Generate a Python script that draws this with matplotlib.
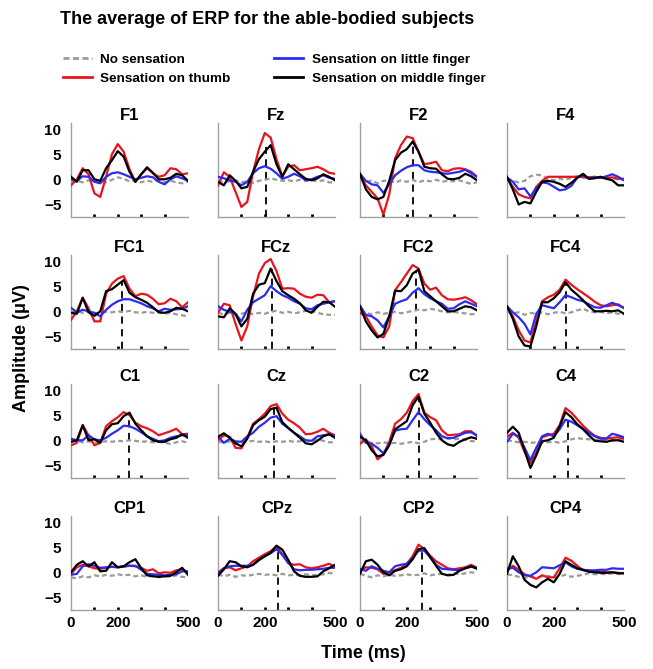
import matplotlib.pyplot as plt
from matplotlib.lines import Line2D

plt.rcParams['font.family'] = ['Liberation Sans', 'DejaVu Sans']
plt.rcParams['font.weight'] = 'bold'

time_ms = [0, 25, 50, 75, 100, 125, 150, 175, 200, 225, 250,
           275, 300, 325, 350, 375, 400, 425, 450, 475, 500]

channels = ['F1', 'Fz', 'F2', 'F4',
            'FC1', 'FCz', 'FC2', 'FC4',
            'C1', 'Cz', 'C2', 'C4',
            'CP1', 'CPz', 'CP2', 'CP4']
conditions = ['No sensation', 'Sensation on thumb',
              'Sensation on little finger', 'Sensation on middle finger']

# average ERP (uV), sampled every 25 ms
F1_none = [-0.5, -0.3, -0.6, -0.2, -0.5, -0.3, -0.6, -0.1, 0.4, 0.1, -0.4, -0.2, -0.6, -0.3, -0.5, -0.2, -0.6, -0.3, -0.6, -0.8, -0.5]
F1_thumb = [-1.2, 0.0, 2.2, 1.0, -2.8, -3.5, 0.5, 5.0, 7.0, 5.5, 2.0, -0.5, 1.0, 2.2, 1.2, 0.5, 0.8, 2.2, 2.0, 1.0, 1.2]
F1_little = [0.0, -0.3, 0.6, 0.5, -0.5, -0.8, 0.5, 1.2, 1.4, 1.0, 0.5, 0.0, 0.3, 0.6, 0.4, -0.5, -1.0, 0.0, 0.6, 0.2, -0.3]
F1_middle = [0.5, -0.5, 1.8, 1.8, 0.0, -0.3, 2.2, 3.8, 5.6, 4.5, 1.5, -0.5, 1.0, 2.4, 1.3, 0.0, 0.0, 0.3, 1.1, 0.8, -0.3]

Fz_none = [-0.3, -0.6, -0.4, -0.2, -0.6, -0.4, -0.7, -0.3, -0.1, 0.2, -0.1, -0.3, -0.2, -0.4, -0.1, -0.3, -0.2, -0.4, -0.2, -0.6, -0.7]
Fz_thumb = [-1.2, 1.4, 0.5, -2.5, -5.5, -4.5, 1.5, 6.0, 9.2, 8.3, 4.0, 0.6, 2.5, 2.8, 1.8, 2.0, 2.2, 2.5, 2.0, 1.3, 1.1]
Fz_little = [0.5, 0.2, -0.2, -0.5, -1.2, -0.5, 1.2, 2.2, 2.6, 2.1, 1.2, 0.1, 0.5, 1.1, 0.6, -0.2, 0.0, 0.5, 0.8, 0.3, 0.1]
Fz_middle = [-0.5, -1.2, 0.8, -0.3, -1.8, -1.5, 1.5, 4.0, 5.5, 6.8, 3.0, 0.5, 3.0, 2.0, 1.0, 0.1, -0.2, 0.2, 1.0, 0.5, -0.2]

F2_none = [0.1, -0.6, -0.2, -0.8, -0.3, -0.2, -0.7, -0.2, -0.5, -0.1, -0.6, -0.2, -0.4, -0.1, -0.5, -0.3, -0.4, -0.2, -0.6, -0.9, -0.6]
F2_thumb = [0.8, -1.2, -2.5, -3.8, -7.0, -3.0, 4.2, 6.8, 8.5, 8.2, 5.5, 3.0, 3.2, 3.5, 1.8, 1.6, 2.1, 2.2, 2.0, 1.5, 0.5]
F2_little = [1.1, -0.3, -1.0, -1.2, -2.7, -1.0, 0.8, 1.7, 2.4, 2.8, 2.8, 1.8, 1.5, 1.4, 1.2, 1.1, 1.3, 1.5, 1.9, 1.2, 0.5]
F2_middle = [1.1, -2.0, -3.5, -4.0, -3.5, -0.3, 3.8, 5.3, 6.0, 7.5, 5.5, 2.5, 2.2, 2.1, 1.0, 0.1, 0.0, 0.3, 1.1, 0.6, -0.2]

F4_none = [0.3, -0.3, -0.6, -0.3, 0.6, 0.9, 0.8, 0.0, -0.2, 0.1, -0.1, 0.3, 0.6, 0.3, 0.2, 0.5, 0.3, 0.1, 0.3, -0.1, 0.0]
F4_thumb = [0.3, -1.5, -3.0, -3.5, -3.8, -1.5, -0.3, 0.5, 0.5, 0.5, 0.5, 0.5, 0.5, 0.5, 0.4, 0.5, 0.3, 0.2, 0.4, 0.1, 0.1]
F4_little = [0.3, -0.5, -2.0, -1.8, -3.4, -1.8, -0.6, -0.8, -1.5, -2.2, -2.0, -1.3, 0.3, 0.8, 0.1, 0.4, 0.3, 0.6, 1.0, 0.5, -0.2]
F4_middle = [0.5, -2.0, -5.0, -4.5, -4.8, -2.5, -0.5, -0.3, -0.5, -0.9, -1.5, -0.7, 0.3, 1.1, 0.1, 0.2, 0.5, 0.1, -0.2, -1.2, -1.2]

FC1_none = [-0.2, 0.0, -0.3, -0.1, -0.4, -0.3, -0.1, -0.2, 0.0, -0.2, 0.1, -0.2, -0.3, -0.1, -0.3, -0.2, -0.5, -0.3, -0.6, -0.8, -1.0]
FC1_thumb = [-1.7, 0.0, 2.7, 0.6, -2.0, -2.0, 3.5, 5.5, 6.5, 7.0, 4.5, 3.0, 3.5, 3.3, 2.5, 1.4, 1.6, 2.5, 2.0, 0.8, 1.8]
FC1_little = [0.7, -0.2, 0.3, 0.0, -0.3, -1.0, 0.3, 1.3, 2.0, 2.4, 2.4, 2.0, 1.6, 1.0, 0.6, 0.0, 0.5, 0.3, 0.4, 0.5, 1.0]
FC1_middle = [-0.3, -0.5, 2.7, -0.2, -0.9, 0.0, 4.0, 4.4, 5.3, 6.2, 3.7, 2.8, 2.3, 1.7, 0.8, -0.2, -0.3, 0.0, 0.7, 0.5, 0.0]

FCz_none = [-0.3, -0.6, -0.3, -0.8, -0.5, -0.2, -0.6, -0.3, -0.5, -0.1, 0.1, -0.3, -0.1, -0.4, -0.2, 0.1, 0.1, -0.3, -0.6, -0.7, -0.7]
FCz_thumb = [-0.3, 1.5, 1.2, -2.5, -5.8, -3.0, 3.0, 7.5, 9.6, 10.4, 8.0, 4.5, 4.6, 4.5, 3.5, 2.9, 2.7, 3.3, 3.2, 1.8, 2.0]
FCz_little = [1.0, 0.3, -0.1, -0.5, -2.0, 0.3, 1.8, 2.5, 3.2, 5.0, 4.0, 3.2, 2.7, 2.0, 1.5, 0.6, 0.4, 1.2, 1.5, 1.8, 2.0]
FCz_middle = [-1.0, -1.2, 0.6, -0.5, -3.0, -1.5, 3.5, 5.3, 5.6, 8.5, 6.0, 4.0, 3.2, 2.5, 1.6, 0.2, -0.3, 0.9, 1.9, 1.8, 0.9]

FC2_none = [0.0, -0.3, -0.6, -0.2, -0.5, -0.3, -0.1, -0.4, -0.2, 0.1, 0.3, 0.2, 0.5, 0.3, 0.0, -0.2, -0.1, -0.3, -0.4, -0.6, -0.5]
FC2_thumb = [-0.3, -1.0, -3.0, -4.8, -5.2, -3.0, 4.2, 5.8, 7.5, 9.2, 8.5, 5.5, 4.3, 4.7, 3.2, 2.4, 2.3, 2.5, 2.8, 2.2, 1.4]
FC2_little = [1.1, -0.7, -1.0, -1.8, -3.2, -1.0, 1.5, 2.0, 2.4, 3.7, 4.6, 3.4, 2.6, 2.0, 1.5, 0.5, 0.6, 1.4, 2.0, 1.5, 1.0]
FC2_middle = [1.0, -2.0, -3.8, -5.2, -4.5, -1.0, 4.1, 4.0, 5.2, 7.5, 8.3, 4.0, 3.0, 2.0, 1.0, 0.0, 0.0, 0.5, 1.0, 0.8, 0.2]

FC4_none = [0.0, -0.4, -0.2, -0.7, -0.3, -0.5, -0.2, -0.6, -0.3, -0.1, -0.4, -0.2, 0.2, 0.5, 0.0, -0.2, -0.1, -0.4, -0.2, -0.5, -0.6]
FC4_thumb = [1.0, -1.0, -3.8, -5.8, -6.2, -2.0, 2.0, 2.8, 3.3, 4.3, 6.3, 5.3, 4.4, 3.6, 2.8, 1.9, 1.2, 1.0, 1.2, 1.4, 0.6]
FC4_little = [1.0, -0.2, -1.2, -2.5, -4.6, -0.5, 1.2, 0.9, 0.6, 1.8, 3.2, 2.8, 2.3, 2.0, 1.4, 0.8, 0.7, 1.2, 1.7, 1.2, 0.7]
FC4_middle = [1.0, -1.5, -5.0, -6.8, -7.0, -3.0, 1.8, 1.8, 2.6, 3.8, 5.8, 4.3, 3.3, 2.2, 1.0, 0.0, 0.0, 0.1, 0.0, 0.2, -0.5]

C1_none = [-0.3, -0.1, -0.4, -0.2, -0.5, -0.3, -0.2, -0.3, -0.1, -0.2, 0.0, -0.1, -0.3, -0.2, -0.4, -0.3, -0.5, -0.7, -0.4, -0.2, -0.5]
C1_thumb = [-1.0, -0.5, 3.0, 1.0, -1.0, -0.5, 2.8, 3.8, 4.6, 5.6, 5.0, 3.5, 2.8, 2.4, 1.8, 1.0, 1.4, 1.8, 2.3, 1.2, 1.3]
C1_little = [0.3, 0.0, 0.0, 1.0, 0.2, 0.0, 0.5, 1.3, 2.0, 2.9, 2.8, 2.3, 1.6, 0.8, 0.3, -0.2, 0.0, 0.5, 0.8, 1.0, 1.1]
C1_middle = [-0.3, 0.0, 3.0, 0.0, 0.2, -0.5, 2.0, 3.2, 3.4, 4.8, 5.5, 3.3, 2.0, 0.8, 0.0, -0.3, -0.3, 0.2, 0.5, 1.2, 0.5]

Cz_none = [-0.3, -0.4, -0.2, -0.6, -0.4, -0.3, -0.1, -0.3, -0.2, -0.4, -0.2, -0.3, -0.1, -0.3, -0.2, 0.0, -0.2, 0.2, -0.1, -0.4, -0.4]
Cz_thumb = [0.0, 1.0, 0.7, -1.5, -1.6, 0.5, 3.3, 4.2, 5.3, 6.8, 7.2, 5.3, 4.1, 3.4, 2.5, 1.2, 1.3, 1.7, 2.3, 1.5, 1.0]
Cz_little = [0.7, -0.5, 0.3, -0.2, -0.3, 0.8, 1.5, 2.7, 3.5, 4.5, 4.8, 3.3, 2.4, 1.5, 0.8, 0.0, -0.1, 0.8, 1.0, 1.2, 0.8]
Cz_middle = [0.7, 1.4, 0.5, -0.6, -1.2, 0.3, 3.0, 4.0, 4.7, 6.2, 6.5, 3.6, 2.5, 1.5, 0.5, -0.6, -0.8, -0.1, 0.8, 1.2, 0.5]

C2_none = [0.0, -0.3, -0.5, -0.6, -0.4, -0.6, -0.5, -0.7, -0.5, -0.3, -0.6, -0.3, 0.2, 0.3, 0.2, 0.4, 0.2, 0.3, 0.1, -0.2, -0.1]
C2_thumb = [-0.7, 0.2, -1.2, -3.8, -2.8, -0.3, 3.3, 4.2, 5.5, 7.8, 9.2, 5.5, 4.6, 4.0, 2.0, 1.0, 1.1, 1.2, 1.8, 1.8, 0.8]
C2_little = [1.3, -0.5, -0.7, -1.5, -2.6, -0.8, 1.9, 2.2, 2.3, 4.0, 5.6, 4.2, 3.0, 2.0, 0.8, 0.4, 0.5, 1.0, 1.5, 1.6, 1.0]
C2_middle = [0.7, 0.0, -2.0, -3.2, -2.9, -1.0, 2.2, 3.0, 3.8, 7.0, 8.7, 5.3, 3.5, 1.5, 0.0, -0.8, -1.1, -0.3, 0.2, 0.6, 0.3]

C4_none = [0.0, -0.2, -0.4, -0.3, -0.5, -0.4, -0.5, -0.4, -0.3, -0.5, -0.2, 0.2, 0.4, 0.3, 0.2, 0.1, 0.0, 0.1, -0.1, 0.1, 0.0]
C4_thumb = [0.7, 1.5, 0.5, -2.3, -4.5, -2.5, 0.6, 1.0, 1.3, 3.0, 6.4, 5.5, 4.2, 2.9, 1.8, 0.9, 0.5, 0.3, 0.5, 0.6, 0.3]
C4_little = [-0.3, 1.3, 0.8, -1.5, -3.9, -1.5, 0.8, 1.3, 0.8, 2.2, 4.1, 3.7, 3.0, 2.3, 1.5, 0.8, 0.3, 0.4, 1.3, 1.0, 0.6]
C4_middle = [1.5, 2.7, 1.5, -2.0, -5.5, -3.0, -0.2, 0.0, 0.5, 2.8, 5.6, 4.6, 3.2, 2.2, 1.0, -0.1, -0.2, -0.3, 0.0, 0.0, -0.3]

CP1_none = [-1.0, -1.2, -0.8, -1.0, -0.6, -0.8, -0.5, -0.7, -0.4, -0.6, -0.5, -0.8, -0.6, -0.9, -0.7, -1.0, -0.8, -0.9, -0.6, -0.9, -1.0]
CP1_thumb = [-0.3, 1.0, 1.5, 1.2, 0.8, 0.7, 0.9, 1.1, 1.0, 1.1, 1.3, 1.2, 0.9, 0.3, 0.6, -0.2, 0.0, -0.1, 0.4, 0.6, 0.0]
CP1_little = [-0.5, -0.3, 1.2, 1.6, 1.3, 0.9, 1.0, 1.1, 1.0, 1.2, 1.3, 1.3, 0.5, -0.3, -0.4, -0.5, -0.6, -0.5, -0.4, 0.2, 0.2]
CP1_middle = [0.0, 1.5, 2.2, 1.2, 2.0, 0.2, 0.3, 2.0, 1.0, 1.2, 2.0, 2.6, 0.8, -0.6, -0.8, -0.9, -0.8, -0.7, 0.0, 0.9, -0.5]

CPz_none = [-0.4, -0.8, -0.5, -0.9, -0.6, -0.7, -0.5, -0.3, -0.5, -0.4, -0.6, -0.3, -0.6, -0.5, -0.6, -0.4, -0.6, -0.5, -0.4, -0.1, -0.4]
CPz_thumb = [0.0, 0.8, 1.0, 0.4, 0.8, 1.2, 2.2, 2.9, 3.6, 4.2, 5.2, 3.5, 1.8, 1.5, 1.6, 1.0, 0.8, 1.0, 1.3, 1.7, 1.1]
CPz_little = [-0.3, 0.8, 1.2, 1.3, 1.3, 1.3, 1.5, 2.4, 3.2, 3.8, 4.6, 3.5, 2.0, 0.6, 0.4, 0.5, 0.5, 0.6, 0.7, 0.9, 0.9]
CPz_middle = [-0.7, 0.6, 2.2, 2.0, 1.2, 1.0, 1.5, 2.5, 3.2, 3.9, 5.3, 4.5, 2.5, 0.2, -0.7, -0.9, -0.9, -0.8, 0.2, 0.8, 1.5]

CP2_none = [-0.3, -0.7, -1.0, -0.6, -0.8, -0.5, -0.7, -0.6, -0.4, -0.6, -0.5, -0.2, -0.6, -0.4, -0.3, -0.5, -0.2, -0.4, -0.2, 0.0, -0.2]
CP2_thumb = [0.3, 1.0, 0.9, 0.6, -0.3, 0.0, 0.4, 0.9, 1.7, 3.2, 5.5, 4.6, 3.3, 2.2, 1.5, 0.8, 0.6, 0.8, 1.0, 1.5, 0.9]
CP2_little = [0.7, 0.3, 1.2, 0.7, 0.3, 0.0, 1.2, 1.5, 1.7, 2.8, 4.3, 4.3, 3.0, 1.5, 0.7, 0.6, 0.5, 0.4, 0.8, 1.1, 0.9]
CP2_middle = [-0.3, 2.2, 2.5, 1.5, 0.0, -0.6, 0.3, 0.6, 1.2, 2.6, 4.6, 4.8, 3.0, 1.3, -0.3, -0.6, -0.5, 0.3, 0.8, 1.2, 0.7]

CP4_none = [-0.4, -0.6, -0.9, -1.2, -0.8, -1.1, -0.8, -0.7, -1.0, -0.8, -0.5, -0.9, -0.7, -0.5, -0.2, -0.4, -0.3, -0.4, -0.2, -0.3, -0.4]
CP4_thumb = [0.3, 1.3, 0.5, -0.4, -0.8, -1.3, -0.6, -1.0, -1.0, 0.8, 2.9, 2.3, 1.3, 0.4, 0.3, 0.2, 0.1, 0.0, 0.0, -0.1, -0.2]
CP4_little = [0.7, 0.9, 0.0, -0.6, -0.7, 0.0, 1.0, 0.9, 0.8, 1.4, 2.0, 1.2, 0.7, 0.5, 0.4, 0.4, 0.5, 0.5, 0.8, 0.7, 0.7]
CP4_middle = [-0.3, 3.2, 1.2, -1.5, -2.5, -3.0, -2.0, -1.3, -2.0, -0.3, 2.2, 1.5, 0.8, 0.5, 0.1, 0.0, -0.1, -0.1, 0.0, -0.2, -0.2]

# latency marker (ms) and its height (uV) for the channels that have one
peak_ms = {'Fz': 207, 'F2': 225, 'FC1': 219, 'FCz': 230, 'FC2': 240, 'FC4': 253,
           'C1': 247, 'Cz': 238, 'C2': 253, 'C4': 260, 'CPz': 258, 'CP2': 263}
peak_uv = {'Fz': 6.5, 'F2': 7.0, 'FC1': 6.0, 'FCz': 8.5, 'FC2': 8.0, 'FC4': 5.5,
           'C1': 5.3, 'Cz': 6.8, 'C2': 8.5, 'C4': 5.3, 'CPz': 5.0, 'CP2': 4.8}

g = globals()
erp = {ch: [g[ch + '_none'], g[ch + '_thumb'], g[ch + '_little'], g[ch + '_middle']]
       for ch in channels}

colors = ['#9a9a9a', '#e8141c', '#2b2bf2', 'black']
styles = ['--', '-', '-', '-']
zorders = [2, 3, 4, 5]

W, H = 653, 669
fig = plt.figure(figsize=(W / 100, H / 100), dpi=100)

col_left = [71, 218, 360, 507]
row_bottom = [217, 349, 478, 610]
ax_w, ax_h = 117, 94

for i, ch in enumerate(channels):
    r, c = divmod(i, 4)
    ax = fig.add_axes([col_left[c] / W, 1 - row_bottom[r] / H, ax_w / W, ax_h / H])
    for k in range(4):
        ln, = ax.plot(time_ms, erp[ch][k], color=colors[k], lw=1.6,
                      ls=styles[k], zorder=zorders[k])
        if k == 0:
            ln.set_dashes((2.2, 1.4))
    if ch in peak_ms:
        ax.plot([peak_ms[ch], peak_ms[ch]], [-7.5, peak_uv[ch]], color='black',
                lw=1.3, ls=(0, (4, 3)), zorder=1)
    ax.set_xlim(0, 500)
    ax.set_ylim(-7.5, 11.2)
    for s in ['top', 'right']:
        ax.spines[s].set_visible(False)
    for s in ['left', 'bottom']:
        ax.spines[s].set_color('#a0a0a0')
        ax.spines[s].set_linewidth(1.0)
    ax.xaxis.remove_overlapping_locs = False
    ax.set_xticks([0, 200, 500])
    ax.set_xticks([100, 200, 300, 400], minor=True)
    ax.tick_params(axis='x', which='major', length=0, pad=4, labelsize=11)
    ax.tick_params(axis='x', which='minor', direction='in', length=2, width=2,
                   color='black')
    ax.set_yticks([-5, 0, 5, 10])
    ax.tick_params(axis='y', length=0, pad=7, labelsize=11)
    if r < 3:
        ax.set_xticklabels([])
    if c > 0:
        ax.set_yticklabels([])
    ax.set_title(ch, fontsize=12, fontweight='bold', pad=-2)

fig.text(267 / W, 1 - 19 / H, 'The average of ERP for the able-bodied subjects',
         ha='center', va='center', fontsize=13, fontweight='bold')

handles = [Line2D([], [], color=colors[k], lw=2, ls=styles[k]) for k in range(4)]
handles[0].set_dashes((2.2, 1.2))
fig.legend(handles, conditions, ncol=2, loc='upper left',
           bbox_to_anchor=(56 / W, 1 - 47 / H), frameon=False, fontsize=9.7,
           handlelength=2.2, handletextpad=0.6, columnspacing=3.2,
           labelspacing=0.45, borderpad=0)

fig.text(22 / W, 1 - 348 / H, 'Amplitude (μV)', rotation=90, ha='center',
         va='center', fontsize=13, fontweight='bold')
fig.text(363 / W, 1 - 653 / H, 'Time (ms)', ha='center', va='center',
         fontsize=13, fontweight='bold')

fig.savefig('out.png', dpi=100)
